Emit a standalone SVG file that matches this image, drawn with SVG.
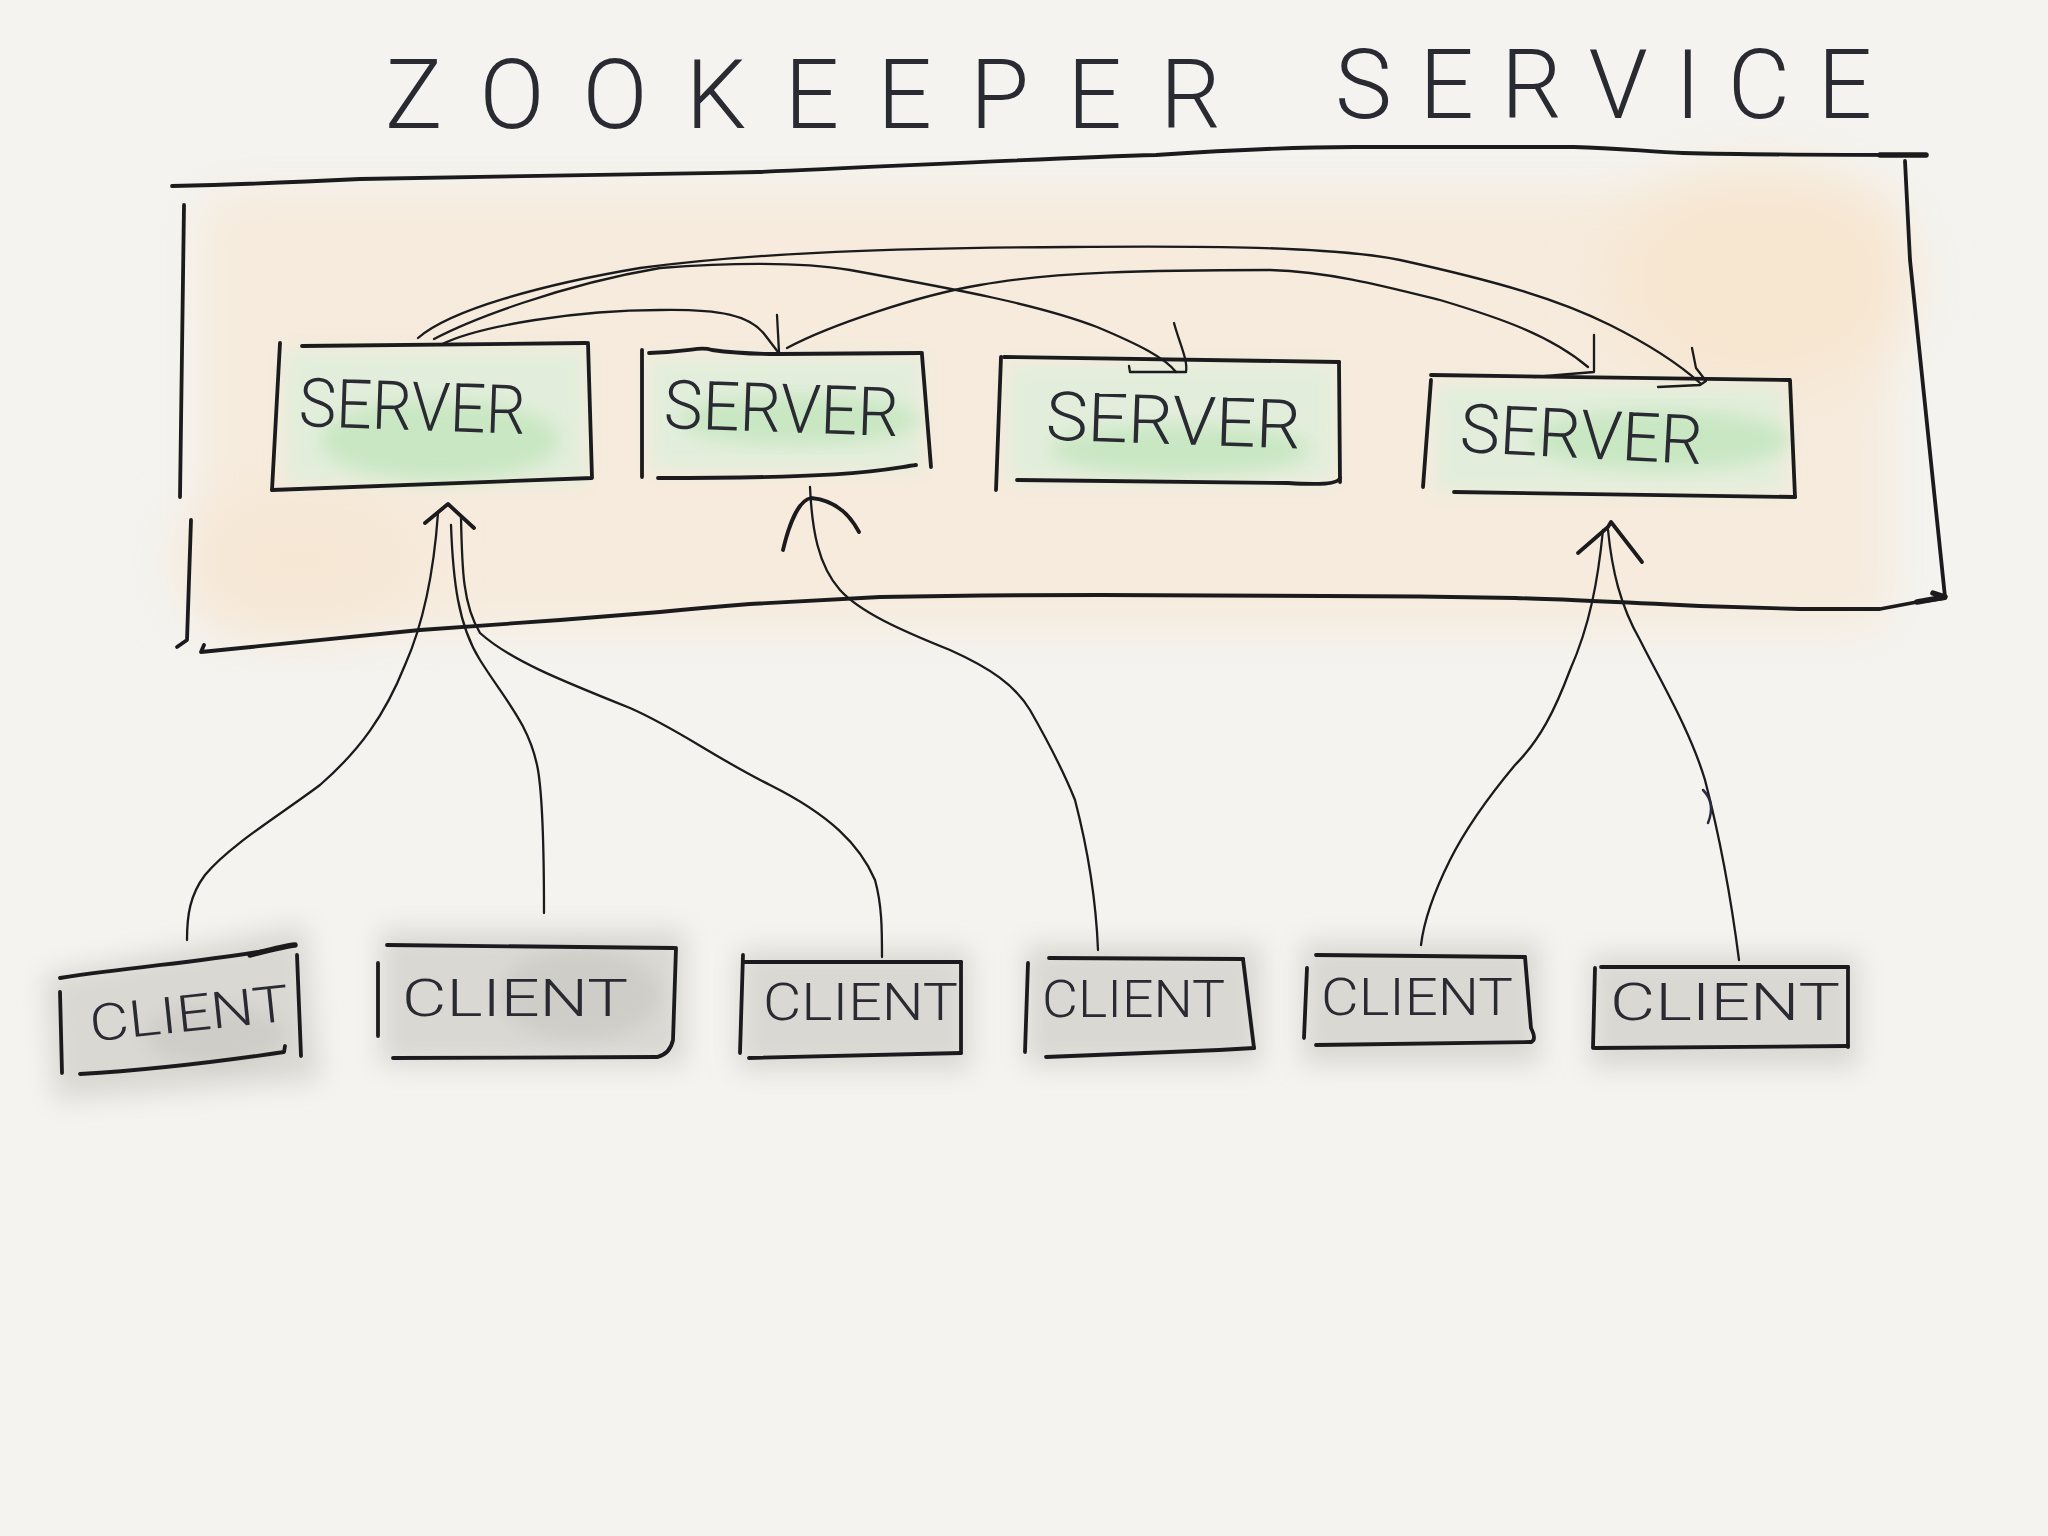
<svg xmlns="http://www.w3.org/2000/svg" width="2048" height="1536" viewBox="0 0 2048 1536">
<defs>
  <filter id="wash" x="-20%" y="-20%" width="140%" height="140%"><feGaussianBlur stdDeviation="22"/></filter>
  <filter id="soft" x="-20%" y="-20%" width="140%" height="140%"><feGaussianBlur stdDeviation="9"/></filter>
  <filter id="cloud" x="-30%" y="-40%" width="160%" height="180%"><feGaussianBlur stdDeviation="13"/></filter>
  <filter id="softer" x="-30%" y="-30%" width="160%" height="160%"><feGaussianBlur stdDeviation="30"/></filter>
</defs>
<style>
  .ink{fill:none;stroke:#1b1b1d;stroke-width:3.8;stroke-linecap:round;stroke-linejoin:round}
  .thin{fill:none;stroke:#1b1b1d;stroke-width:2.3;stroke-linecap:round;stroke-linejoin:round}
  .thick{fill:none;stroke:#1b1b1d;stroke-width:5.5;stroke-linecap:round;stroke-linejoin:round}
  .lbl{font-family:Roboto,"Liberation Sans",sans-serif;font-weight:300;fill:#2a2a33}
  .title{font-family:Roboto,"Liberation Sans",sans-serif;font-weight:300;font-size:96px;fill:#2a2a33}
  .srv{font-size:68px}
  .cli{font-size:51px}
  .greenbase{fill:#e2eedb}
  .greenspot{fill:#c9e7c3}
  .graybase{fill:#d9d8d3}
  .grayspot{fill:#cfcdc7}
</style>
<rect width="2048" height="1536" fill="#f4f3ef"/>

<!-- service wash -->
<g id="service-wash">
  <rect x="200" y="190" width="1690" height="440" rx="30" fill="#f6ebdd" filter="url(#wash)"/>
  <ellipse cx="1760" cy="280" rx="150" ry="110" fill="#f7e6d0" filter="url(#softer)"/>
  <ellipse cx="300" cy="560" rx="120" ry="70" fill="#f6e7d5" filter="url(#softer)"/>
</g>

<g id="title">
  <text class="title" x="385" y="128" textLength="836" lengthAdjust="spacing">ZOOKEEPER</text>
  <text class="title" x="1335" y="118" textLength="537" lengthAdjust="spacing">SERVICE</text>
</g>

<g id="zookeeper-service">
  <path class="ink" d="M172,186 C260,184 320,181 360,179 C480,178 620,175 758,172 C900,166 1050,158 1156,155 C1230,150 1300,147 1355,147 L1574,147 C1620,148 1650,152 1683,153 C1760,155 1850,155 1926,155"/>
  <path class="thick" d="M1880,155 L1926,155"/>
  <path class="ink" d="M184,205 L180,497"/>
  <path class="ink" d="M191,520 L187,640 L177,647"/>
  <path class="ink" d="M1905,161 L1910,260 L1937,520 L1945,597"/>
  <path class="ink" d="M1945,598 L1917,602 L1880,609 L1800,609 L1700,606 C1620,602 1560,599 1515,598 C1420,596 1380,596 1324,596 L1100,595 C1000,595 930,596 880,597 C820,600 780,602 750,604 C700,608 680,610 660,612 C600,617 570,619 560,620 C500,624 460,627 420,630 C320,640 250,647 201,652 L204,645"/>
  <path class="thick" d="M1933,593 L1945,597 L1917,602"/>
</g>

<!-- servers -->
<g id="server-1">
  <rect x="285" y="350" width="300" height="134" class="greenbase" filter="url(#soft)"/>
  <ellipse cx="440" cy="440" rx="120" ry="40" class="greenspot" filter="url(#soft)"/>
  <path class="ink" d="M302,346 L586,343"/>
  <path class="ink" d="M588,343 L592,478 L272,490"/>
  <path class="ink" d="M280,343 L272,490"/>
  <text class="lbl srv" x="299" y="430" textLength="227" lengthAdjust="spacingAndGlyphs" transform="rotate(2 412 405)">SERVER</text>
</g>
<g id="server-2">
  <rect x="650" y="358" width="272" height="112" class="greenbase" filter="url(#soft)"/>
  <ellipse cx="800" cy="420" rx="120" ry="25" class="greenspot" filter="url(#soft)"/>
  <path class="ink" d="M649,353 C690,352 700,346 712,350 C740,354 760,354 778,354 L922,353"/>
  <path class="ink" d="M922,355 L931,467"/>
  <path class="ink" d="M916,465 C880,470 860,478 658,478"/>
  <path class="ink" d="M642,350 L642,477"/>
  <text class="lbl srv" x="664" y="432" textLength="235" lengthAdjust="spacingAndGlyphs" transform="rotate(2 781 410)">SERVER</text>
</g>
<g id="server-3">
  <rect x="1008" y="364" width="326" height="118" class="greenbase" filter="url(#soft)"/>
  <ellipse cx="1180" cy="450" rx="130" ry="25" class="greenspot" filter="url(#soft)"/>
  <path class="ink" d="M1004,357 L1339,362"/>
  <path class="ink" d="M1001,357 L996,490"/>
  <path class="ink" d="M1339,362 L1340,482"/>
  <path class="ink" d="M1017,480 L1288,483 C1320,485 1338,484 1340,478"/>
  <text class="lbl srv" x="1046" y="444" textLength="255" lengthAdjust="spacingAndGlyphs" transform="rotate(2 1173 419)">SERVER</text>
</g>
<g id="server-4">
  <rect x="1435" y="384" width="350" height="108" class="greenbase" filter="url(#soft)"/>
  <ellipse cx="1660" cy="440" rx="130" ry="30" class="greenspot" filter="url(#soft)"/>
  <path class="ink" d="M1431,375 L1789,380"/>
  <path class="ink" d="M1431,380 L1423,487"/>
  <path class="ink" d="M1790,380 L1795,497"/>
  <path class="ink" d="M1454,492 L1795,497"/>
  <text class="lbl srv" x="1460" y="458" textLength="243" lengthAdjust="spacingAndGlyphs" transform="rotate(3 1581 436)">SERVER</text>
</g>

<!-- clients -->
<g id="client-1">
  <path d="M45,975 L305,925 L320,1080 L55,1100 Z" class="graybase" filter="url(#cloud)"/>
  <ellipse cx="215" cy="1035" rx="70" ry="30" class="grayspot" filter="url(#soft)"/>
  <path class="ink" d="M60,978 C140,966 220,960 280,948"/>
  <path class="thick" d="M250,955 C270,950 285,946 295,945"/>
  <path class="ink" d="M60,992 L62,1073"/>
  <path class="ink" d="M297,955 L301,1056"/>
  <path class="ink" d="M80,1074 C150,1070 230,1060 284,1052 L285,1046"/>
  <text class="lbl cli" x="89" y="1031" textLength="200" lengthAdjust="spacingAndGlyphs" transform="rotate(-6 190 1012)">CLIENT</text>
</g>
<g id="client-2">
  <rect x="380" y="930" width="305" height="135" class="graybase" filter="url(#cloud)"/>
  <ellipse cx="580" cy="995" rx="80" ry="45" class="grayspot" filter="url(#soft)"/>
  <path class="ink" d="M387,945 L674,948"/>
  <path class="ink" d="M676,948 L673,1040 Q670,1054 657,1057"/>
  <path class="ink" d="M393,1058 L657,1057"/>
  <path class="ink" d="M378,963 L378,1036"/>
  <text class="lbl cli" x="402" y="1016" textLength="226" lengthAdjust="spacingAndGlyphs">CLIENT</text>
</g>
<g id="client-3">
  <rect x="738" y="950" width="232" height="120" class="graybase" filter="url(#cloud)"/>
  <path class="ink" d="M743,962 L961,962"/>
  <path class="ink" d="M743,955 L740,1053"/>
  <path class="ink" d="M961,962 L961,1053"/>
  <path class="ink" d="M749,1058 L961,1053"/>
  <text class="lbl cli" x="763" y="1020" textLength="195" lengthAdjust="spacingAndGlyphs">CLIENT</text>
</g>
<g id="client-4">
  <rect x="1025" y="945" width="236" height="120" class="graybase" filter="url(#cloud)"/>
  <path class="ink" d="M1049,958 L1243,959"/>
  <path class="ink" d="M1028,963 L1025,1052"/>
  <path class="ink" d="M1243,959 L1254,1048"/>
  <path class="ink" d="M1046,1057 L1219,1050 L1254,1048"/>
  <text class="lbl cli" x="1042" y="1017" textLength="183" lengthAdjust="spacingAndGlyphs">CLIENT</text>
</g>
<g id="client-5">
  <rect x="1302" y="942" width="238" height="122" class="graybase" filter="url(#cloud)"/>
  <path class="ink" d="M1316,955 L1525,957"/>
  <path class="ink" d="M1307,968 L1304,1038"/>
  <path class="ink" d="M1525,957 L1531,1028 Q1537,1040 1531,1042"/>
  <path class="ink" d="M1316,1045 L1531,1042"/>
  <text class="lbl cli" x="1321" y="1015" textLength="192" lengthAdjust="spacingAndGlyphs">CLIENT</text>
</g>
<g id="client-6">
  <rect x="1590" y="955" width="268" height="112" class="graybase" filter="url(#cloud)"/>
  <path class="ink" d="M1601,967 L1848,967"/>
  <path class="ink" d="M1595,968 L1593,1048"/>
  <path class="ink" d="M1848,967 L1848,1047"/>
  <path class="ink" d="M1595,1048 L1848,1046"/>
  <text class="lbl cli" x="1610" y="1020" textLength="230" lengthAdjust="spacingAndGlyphs">CLIENT</text>
</g>

<g id="connectors">
  <!-- server to server -->
  <path class="thin" d="M418,338 C450,310 540,285 640,268 C760,252 900,248 1070,247 C1200,246 1330,246 1400,260 C1500,282 1560,300 1610,325 C1650,345 1680,365 1700,383"/>
  <path class="thin" d="M1692,348 L1696,368 L1706,381 L1700,385 L1658,387"/>
  <path class="thin" d="M434,339 C470,320 560,285 660,268 C740,262 800,262 850,270 C960,290 1040,305 1097,327 C1140,345 1165,358 1176,372"/>
  <path class="thin" d="M1174,323 C1180,345 1188,360 1186,372 L1130,372 L1129,366"/>
  <path class="thin" d="M440,345 C480,325 580,310 660,310 C720,309 750,315 765,335 L778,352"/>
  <path class="thin" d="M777,315 L779,352"/>
  <path class="thin" d="M787,348 C830,325 920,295 980,285 C1050,272 1150,270 1270,270 C1330,272 1380,285 1440,300 C1500,318 1550,335 1588,367"/>
  <path class="thin" d="M1594,335 L1594,372 L1534,377"/>
  <!-- clients to servers -->
  <path class="ink" d="M425,523 L448,504 L474,528"/>
  <path class="thin" d="M438,513 C434,570 425,620 405,665 C385,715 360,750 320,785 C280,815 230,845 205,875 C190,895 187,915 187,940"/>
  <path class="thin" d="M451,525 C453,580 458,625 480,660 C505,700 530,725 538,770 C543,800 544,860 544,913"/>
  <path class="thin" d="M461,517 C462,570 463,605 480,633 C510,660 560,680 630,708 C680,730 710,755 770,785 C830,815 860,845 875,880 C882,905 882,930 882,957"/>
  <path class="ink" d="M783,550 C790,520 800,500 811,498 C835,500 850,515 859,532"/>
  <path class="thin" d="M810,487 C812,530 818,565 840,590 C860,612 900,630 950,650 C990,668 1015,685 1030,710 C1050,745 1065,775 1075,800 C1088,850 1096,900 1098,950"/>
  <path class="ink" d="M1578,553 L1608,527 L1611,522 L1642,562"/>
  <path class="thin" d="M1603,530 C1598,580 1590,625 1570,670 C1555,710 1540,740 1515,765 C1490,795 1465,830 1450,860 C1435,890 1424,920 1421,945"/>
  <path class="thin" d="M1608,530 C1612,570 1620,605 1640,640 C1660,680 1690,730 1705,780 C1718,830 1730,890 1739,960"/>
  <path d="M1703,790 Q1716,803 1708,823" fill="none" stroke="#2a2a40" stroke-width="2.5" stroke-linecap="round"/>
</g>
</svg>
